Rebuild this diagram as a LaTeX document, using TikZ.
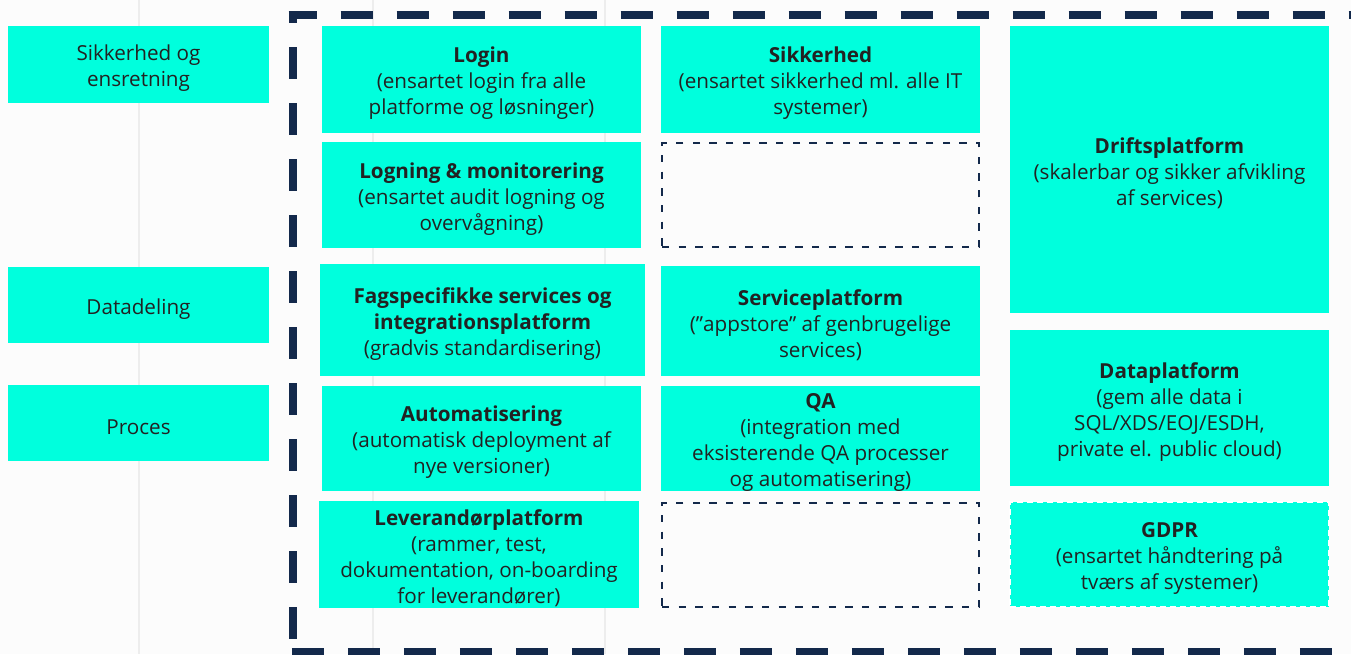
\documentclass[tikz,border=0pt]{standalone}
\usepackage{fontspec}
\setmainfont{Open Sans}
\usetikzlibrary{fit}
\definecolor{cyanbox}{HTML}{00FFDD}
\definecolor{navy}{HTML}{13294B}
\definecolor{txt}{HTML}{222222}
\definecolor{guide}{HTML}{EDEDED}
\begin{document}
\begin{tikzpicture}[x=0.75pt,y=-0.75pt,
  box/.style={fill=cyanbox,draw=none,inner sep=0pt},
  lbl/.style={inner sep=0pt,align=center,text=txt,anchor=center,yshift=-3pt,
    font=\fontsize{15.5}{19.5}\selectfont},
  emptybox/.style={draw=navy,line width=1.9pt,dash pattern=on 5.5pt off 7pt,inner sep=0pt},
  gdprbox/.style={box,draw=white,line width=1.2pt,dash pattern=on 4.5pt off 3pt},
  frame/.style={draw=navy,line width=6pt,dash pattern=on 24pt off 18pt},
  guideline/.style={draw=guide,line width=1pt}]
\useasboundingbox (0,0) rectangle (1351,654);
\fill[white!99!black] (0,0) rectangle (1351,654);
% faint guide lines
\foreach \gx in {139,373,605} \draw[guideline] (\gx,0) -- (\gx,654);
% outer dashed frame
\draw[frame,dash phase=2.85pt] (288.5,15) -- (1360,15);
\draw[frame,dash phase=15pt] (292.5,11) -- (292.5,658);
\draw[frame,dash phase=39.4pt] (288.5,652) -- (1360,652);
% left labels
\node[box,fit={(8,26)(269,103)}] (sikL) {};
\node[lbl] (sikLt) at (sikL.center) {Sikkerhed og\\ensretning};
\node[box,fit={(8,267)(269,343)}] (dataL) {};
\node[lbl] (dataLt) at (dataL.center) {Datadeling};
\node[box,fit={(8,385)(269,461)}] (procL) {};
\node[lbl] (procLt) at (procL.center) {Proces};
% column 1
\node[box,fit={(322,26)(641,133)}] (login) {};
\node[lbl] (logint) at (login.center) {\textbf{Login}\\(ensartet login fra alle\\platforme og løsninger)};
\node[box,fit={(322,142)(641,248)}] (logning) {};
\node[lbl] (logningt) at (logning.center) {\textbf{Logning \& monitorering}\\(ensartet audit logning og\\overvågning)};
\node[box,fit={(320,264)(645,376)}] (fag) {};
\node[lbl] (fagt) at (fag.center) {\textbf{Fagspecifikke services og}\\\textbf{integrationsplatform}\\(gradvis standardisering)};
\node[box,fit={(322,386)(641,491)}] (auto) {};
\node[lbl] (autot) at (auto.center) {\textbf{Automatisering}\\(automatisk deployment af\\nye versioner)};
\node[box,fit={(319,501)(639,608)}] (lev) {};
\node[lbl] (levt) at (lev.center) {\textbf{Leverandørplatform}\\(rammer, test,\\dokumentation, on-boarding\\for leverandører)};
% column 2
\node[box,fit={(661,26)(980,133)}] (sik) {};
\node[lbl] (sikt) at (sik.center) {\textbf{Sikkerhed}\\(ensartet sikkerhed ml. alle IT\\systemer)};
\node[emptybox,fit={(662,143)(979,247)}] (empty1) {};
\node[box,fit={(661,266)(980,376)}] (service) {};
\node[lbl] (servicet) at (service.center) {\textbf{Serviceplatform}\\(”appstore” af genbrugelige\\services)};
\node[box,fit={(661,386)(980,491)}] (qa) {};
\node[lbl] (qat) at (qa.center) {\textbf{QA}\\(integration med\\eksisterende QA processer\\og automatisering)};
\node[emptybox,fit={(662,503)(979,607)}] (empty2) {};
% column 3
\node[box,fit={(1010,26)(1329,313)}] (drift) {};
\node[lbl] (driftt) at (drift.center) {\textbf{Driftsplatform}\\(skalerbar og sikker afvikling\\af services)};
\node[box,fit={(1010,330)(1329,486)}] (datap) {};
\node[lbl] (datapt) at (datap.center) {\textbf{Dataplatform}\\(gem alle data i\\SQL/XDS/EOJ/ESDH,\\private el. public cloud)};
\node[gdprbox,fit={(1010,502)(1329,607)}] (gdpr) {};
\node[lbl] (gdprt) at (gdpr.center) {\textbf{GDPR}\\(ensartet håndtering på\\tværs af systemer)};
\end{tikzpicture}
\end{document}
